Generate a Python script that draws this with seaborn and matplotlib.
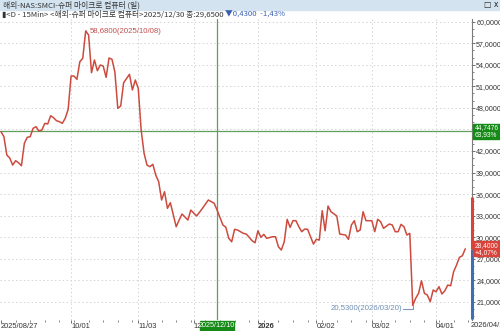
import matplotlib
matplotlib.use("Agg")
import matplotlib.pyplot as plt
import matplotlib.transforms as mtransforms
from matplotlib.patches import Rectangle
from matplotlib.ticker import FixedLocator, MultipleLocator
import seaborn as sns
import pandas as pd

# ---------------- data (trading-day index, close in USD) ----------------
bar = [0, 1, 2, 3, 4, 5, 6, 7, 8, 9, 10, 11, 12, 13, 14, 15, 16, 17, 18, 19,
       20, 21, 22, 23, 24, 25, 26, 27, 28, 29, 30, 31, 32, 33, 34, 35, 36, 37, 38, 39,
       40, 41, 42, 44, 45, 46, 47, 48, 49, 50, 51, 52, 53, 54, 55, 56, 57, 58, 60, 61,
       62, 64, 65, 67, 69, 71, 73, 74, 76, 77, 78, 79, 80, 81, 83, 84, 85, 86, 87, 88,
       89, 90, 91, 93, 94, 95, 96, 97, 98, 99, 100, 101, 102, 103, 104, 105, 106, 107, 108, 109,
       110, 111, 112, 113, 115, 116, 118, 119, 120, 121, 122, 123, 124, 125, 127, 128, 129, 130, 131, 133,
       134, 135, 136, 137, 138, 139, 140, 141, 142, 143, 144, 145, 146, 147, 148, 149, 150, 151, 152, 153,
       154, 155, 156, 157, 158, 159]
close = [44.69, 43.99, 41.44, 41.03, 40.05, 40.65, 40.37, 39.96, 43.07, 43.91,
         43.99, 45.16, 45.38, 44.78, 44.92, 45.85, 45.76, 46.91, 46.63, 46.22,
         46.08, 45.85, 46.55, 47.80, 52.43, 52.43, 51.97, 54.42, 54.90, 58.68,
         58.14, 52.89, 54.66, 53.17, 53.96, 53.82, 52.25, 54.94, 54.76, 52.99,
         47.94, 48.26, 51.50, 52.67, 50.49, 51.88, 50.72, 44.92, 41.68, 40.05,
         39.82, 40.15, 38.66, 37.73, 35.19, 36.34, 34.03, 34.81, 31.47, 32.40,
         33.24, 32.40, 33.79, 32.96, 34.03, 35.19, 34.73, 33.79, 31.71, 31.39,
         29.86, 29.38, 31.11, 31.01, 30.55, 30.45, 30.00, 29.52, 29.24, 30.91,
         30.00, 30.41, 29.86, 30.08, 30.08, 28.69, 28.23, 29.38, 32.50, 31.39,
         32.31, 32.31, 31.47, 30.78, 31.15, 31.11, 30.08, 29.06, 29.72, 29.62,
         33.70, 30.91, 34.35, 33.56, 32.96, 30.45, 30.32, 29.72, 31.71, 32.31,
         30.78, 31.01, 33.56, 32.31, 32.31, 30.78, 32.50, 32.17, 31.25, 31.85,
         31.71, 30.78, 30.78, 31.80, 31.47, 30.32, 30.55, 20.53, 21.51, 22.21,
         23.96, 22.21, 21.97, 21.04, 22.67, 22.43, 23.13, 22.11, 22.57, 23.36,
         23.26, 25.21, 26.14, 27.21, 27.44, 28.40]

tick_bars = [0, 24, 47, 66, 88, 108, 127, 149]
tick_labels = ["2025/08/27", "10/01", "11/03", "12", "2026", "02/02", "03/02", "04/01"]
last_label = "2026/04/16"
y_ticks = [21, 24, 27, 30, 33, 36, 39, 42, 45, 48, 51, 54, 57, 60]

peak_bar, peak_val, peak_date = 29, 58.68, "2025/10/08"
low_bar, low_val, low_date = 141, 20.53, "2026/03/20"
cross_bar, cross_val, cross_date, cross_pct = 73.9, 44.7476, "2025/12/10", "63,93%"
last_val, last_pct = 28.40, "+4,07%"
day_high = 35.56

title1 = "해외-NAS:SMCI-슈퍼 마이크로 컴퓨터 (일)"
title2_a = "▮<D - 15Min> <해외-슈퍼 마이크로 컴퓨터>2025/12/30 종:29,6500 "
title2_b = "▼0,4300  -1,43%"

df = pd.DataFrame({"bar": bar, "close": close})


def fmt(v):
    return f"{v:.4f}".replace(".", ",")


# ---------------- style ----------------
sns.set_theme(style="white")
NUM_FONT = ["Liberation Sans Narrow", "Liberation Sans", "DejaVu Sans"]
KR_FONT = ["Noto Sans CJK KR", "DejaVu Sans"]
plt.rcParams["font.family"] = NUM_FONT

W, H = 500, 331
fig = plt.figure(figsize=(W / 100, H / 100), dpi=100)
fig.patch.set_facecolor("white")


def fx(x):
    return x / W


def fy(y):
    return 1 - y / H


ax_left, ax_right, ax_top, ax_bot = 0, 472, 19, 320
ax = fig.add_axes([fx(ax_left), fy(ax_bot), fx(ax_right - ax_left), (ax_bot - ax_top) / H])
ax.set_facecolor("white")

LINE = "#cc4b3e"
GRID = "#d5d5d5"
GREEN = "#5f9f5f"
GREEN_BOX = "#168a16"
RED_BOX = "#d9433a"

sns.lineplot(data=df, x="bar", y="close", ax=ax, color=LINE, linewidth=1.1)

ax.set_xlim(-0.34, 161.3)
ax.set_ylim(18.5, 60.36)

# grid
for yv in y_ticks:
    ax.axhline(yv, color=GRID, lw=0.7, ls=(0, (1.5, 2.5)), zorder=0)
for b in tick_bars[1:]:
    ax.axvline(b, color=GRID, lw=0.7, ls=(0, (1.5, 2.5)), zorder=0)

# crosshair
ax.axvline(cross_bar, color=GREEN, lw=0.9, zorder=1)
ax.axhline(cross_val, color=GREEN, lw=0.9, zorder=1)

# spines
for s in ["top", "left", "bottom"]:
    ax.spines[s].set_visible(False)
ax.spines["right"].set_color("#7a7a7a")
ax.spines["right"].set_linewidth(0.8)

# y axis on right (label hidden under the crosshair box is left blank)
ax.yaxis.tick_right()
ax.yaxis.set_label_position("right")
ax.set_yticks(y_ticks)
ax.set_yticklabels(["" if abs(v - cross_val) < 1.0 else fmt(v) for v in y_ticks],
                   fontsize=5.1, color="#333333")
ax.yaxis.set_minor_locator(MultipleLocator(1))
ax.tick_params(axis="y", which="major", direction="out", length=2.5, width=0.6,
               color="#555555", pad=0.5, right=True, left=False)
ax.tick_params(axis="y", which="minor", direction="out", length=1.5, width=0.5,
               color="#555555", right=True, left=False)

# x axis
ax.set_xticks(tick_bars)
ax.set_xticklabels(tick_labels, fontsize=5.4, color="#333333", ha="left")
ax.xaxis.set_minor_locator(FixedLocator([b for b in range(0, 161, 5)]))
ax.tick_params(axis="x", which="major", direction="out", length=2, width=0.6,
               color="#555555", pad=0, bottom=True)
ax.tick_params(axis="x", which="minor", direction="out", length=1.5, width=0.5,
               color="#555555", bottom=True)
for lab in ax.get_xticklabels():
    if lab.get_text() == "2026":
        lab.set_fontweight("bold")
ax.set_xlabel("")
ax.set_ylabel("")

# right-axis price segments
trans = mtransforms.blended_transform_factory(ax.transAxes, ax.transData)
ax.plot([1.0, 1.0], [last_val, day_high], transform=trans, color=RED_BOX,
        lw=2.2, clip_on=False, solid_capstyle="butt", zorder=5)
ax.plot([1.0, 1.0], [18.6, last_val], transform=trans, color="#3d6fb5",
        lw=2.2, clip_on=False, solid_capstyle="butt", zorder=5)


# right boxes
def right_box(val, l1, l2, color):
    yc = ax.transData.transform((0, val))[1]
    yc_px = H - yc
    fig.patches.append(Rectangle((fx(473), fy(yc_px + 7.5)), fx(27), 15 / H,
                                 transform=fig.transFigure, color=color, zorder=10))
    fig.text(fx(475), fy(yc_px - 3.4), l1, color="white", fontsize=4.8,
             ha="left", va="center", zorder=11)
    fig.text(fx(475), fy(yc_px + 3.6), l2, color="white", fontsize=4.8,
             ha="left", va="center", zorder=11)


right_box(cross_val, fmt(cross_val), cross_pct, GREEN_BOX)
right_box(last_val, fmt(last_val), last_pct, RED_BOX)

# bottom crosshair date box
xc = ax.transData.transform((cross_bar, 0))[0]
fig.patches.append(Rectangle((fx(xc - 17), 0), fx(34), 10 / H,
                             transform=fig.transFigure, color=GREEN_BOX, zorder=10))
fig.text(fx(xc), fy(325.5), cross_date, color="white", fontsize=5.2,
         ha="center", va="center", zorder=11)

# last bar date at the right end
fig.text(fx(471), fy(325.5), last_label, color="#333333", fontsize=5.4,
         ha="left", va="center")

# peak annotation
ax.annotate(f"{fmt(peak_val)}({peak_date})", xy=(peak_bar, peak_val),
            xytext=(peak_bar + 1.5, peak_val), textcoords="data",
            fontsize=5.6, color="#c0504d", va="center", ha="left",
            arrowprops=dict(arrowstyle="-", color="#c0504d", lw=0.7,
                            shrinkA=0, shrinkB=0))

# low annotation
low_y_text = low_val - 0.45
ax.plot([low_bar, low_bar, low_bar - 3.5], [low_val, low_y_text, low_y_text],
        color="#7f98b8", lw=0.8)
ax.text(low_bar - 3.7, low_y_text, f"{fmt(low_val)}({low_date})", fontsize=5.6,
        color="#6f8fb5", va="center", ha="right")

# ---------------- header ----------------
fig.patches.append(Rectangle((0, fy(9.5)), 1, 9.5 / H, transform=fig.transFigure,
                             color="#d3e3f0", zorder=0))
fig.text(fx(3), fy(5), title1, fontsize=5.6, color="#333333", va="center",
         ha="left", family=KR_FONT)
fig.text(fx(484), fy(5), "□ x", fontsize=5.6, color="#222222", va="center",
         ha="left", family=["DejaVu Sans"])
t = fig.text(fx(2), fy(14.5), title2_a, fontsize=5.6, color="#333333",
             va="center", ha="left", family=KR_FONT)
fig.canvas.draw()
bb = t.get_window_extent()
fig.text(bb.x1 / fig.dpi / fig.get_figwidth(), fy(14.5), title2_b, fontsize=5.6,
         color="#3a5fb0", va="center", ha="left", family=KR_FONT)

fig.savefig("out.png", dpi=100, facecolor="white")
